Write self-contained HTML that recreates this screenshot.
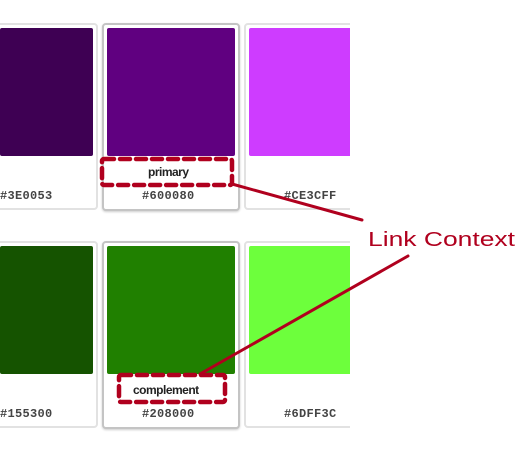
<!DOCTYPE html>
<html><head><meta charset="utf-8"><style>
body{margin:0;width:522px;height:451px;background:#fff;position:relative;overflow:hidden;font-family:"Liberation Sans",sans-serif}
.card{position:absolute;background:#fff;border:2px solid #e2e2e2;border-radius:4px;box-sizing:border-box}
.card.sel{border-color:#c4c4c4;box-shadow:0 1px 2px rgba(0,0,0,.2)}
.sw{position:absolute;border-radius:2px}
.hex{position:absolute;font-family:"Liberation Mono",monospace;font-weight:bold;font-size:12px;color:#444;letter-spacing:.3px}
.lbl{position:absolute;font-size:12px;font-weight:bold;color:#222;letter-spacing:-.5px}
</style></head><body>
<div class="card" style="left:-4px;top:23px;width:102px;height:187px"></div>
<div class="card sel" style="left:102px;top:23px;width:138px;height:188px"></div>
<div class="card" style="left:244px;top:23px;width:120px;height:187px"></div>
<div class="sw" style="left:0;top:28px;width:93px;height:128px;background:#3e0053"></div>
<div class="sw" style="left:107px;top:28px;width:128px;height:128px;background:#600080"></div>
<div class="sw" style="left:249px;top:28px;width:110px;height:128px;background:#ce3cff"></div>
<div class="hex" style="left:0;top:189px">#3E0053</div>
<div class="hex" style="left:142px;top:189px">#600080</div>
<div class="hex" style="left:284px;top:189px">#CE3CFF</div>
<div class="lbl" style="left:148px;top:165px">primary</div>

<div class="card" style="left:-4px;top:241px;width:102px;height:187px"></div>
<div class="card sel" style="left:102px;top:241px;width:138px;height:188px"></div>
<div class="card" style="left:244px;top:241px;width:120px;height:187px"></div>
<div class="sw" style="left:0;top:246px;width:93px;height:128px;background:#155300"></div>
<div class="sw" style="left:107px;top:246px;width:128px;height:128px;background:#208000"></div>
<div class="sw" style="left:249px;top:246px;width:110px;height:128px;background:#6dff3c"></div>
<div class="hex" style="left:0;top:407px">#155300</div>
<div class="hex" style="left:142px;top:407px">#208000</div>
<div class="hex" style="left:284px;top:407px">#6DFF3C</div>
<div class="lbl" style="left:133px;top:383px">complement</div>

<div style="position:absolute;left:350px;top:0;width:172px;height:451px;background:#fff"></div>

<svg width="522" height="451" style="position:absolute;left:0;top:0">
<g fill="none" stroke="#b0001e" stroke-width="4.5" stroke-dasharray="10 6" stroke-linecap="round">
<rect x="102" y="159" width="130" height="26" rx="2"/>
<rect x="119" y="375" width="106" height="27" rx="2"/>
</g>
<g stroke="#b0001e" stroke-width="3" stroke-linecap="round">
<line x1="232" y1="184" x2="362" y2="220"/>
<line x1="200" y1="374" x2="408" y2="256"/>
</g>
<text x="368" y="246" fill="#b0001e" font-family="'Liberation Sans',sans-serif" font-size="20" textLength="147" lengthAdjust="spacingAndGlyphs">Link Context</text>
</svg>
</body></html>
